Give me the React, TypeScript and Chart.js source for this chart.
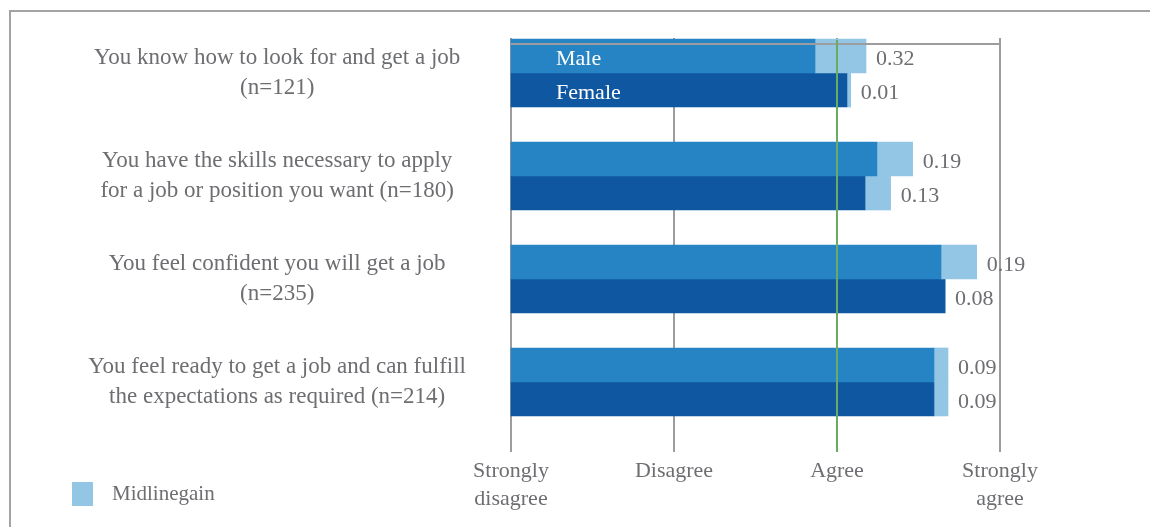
import React, { useEffect, useRef } from "react";
import { Chart, registerables } from "chart.js";

Chart.register(...registerables);

// ---------- data ----------
const CATEGORIES: string[][] = [
  ["You know how to look for and get a job", "(n=121)"],
  ["You have the skills necessary to apply", "for a job or position you want (n=180)"],
  ["You feel confident you will get a job", "(n=235)"],
  ["You feel ready to get a job and can fulfill", "the expectations as required (n=214)"],
];
const SCALE_LABELS: (string | string[])[] = [["Strongly", "disagree"], "Disagree", "Agree", ["Strongly", "agree"]];
const SCALE_MIN = 1;
const SCALE_MAX = 4;
const MIDLINE = 3;

const MALE_BASELINE = [2.865, 3.245, 3.638, 3.595];
const MALE_ENDLINE = [3.178, 3.464, 3.857, 3.681];
const FEMALE_BASELINE = [3.061, 3.172, 3.663, 3.595];
const FEMALE_ENDLINE = [3.084, 3.329, 3.663, 3.681];
const MALE_GAIN_LABELS = ["0.32", "0.19", "0.19", "0.09"];
const FEMALE_GAIN_LABELS = ["0.01", "0.13", "0.08", "0.09"];

// ---------- styles ----------
const FONT = "'Liberation Serif', 'DejaVu Serif', serif";
const TEXT = "#6d6e71";
const GRID = "#9d9d9f";
const GREEN = "#6aab62";
const MALE_COLOR = "#2784c4";
const FEMALE_COLOR = "#0f57a0";
const GAIN_COLOR = "#93c6e4";

const overlayPlugin = {
  id: "overlay",
  afterDatasetsDraw(chart: any) {
    const { ctx, chartArea, scales } = chart;
    ctx.save();
    // top rule
    ctx.strokeStyle = GRID;
    ctx.lineWidth = 2;
    ctx.beginPath();
    ctx.moveTo(chartArea.left, chartArea.top + 6);
    ctx.lineTo(chartArea.right, chartArea.top + 6);
    ctx.stroke();
    // midline
    const mx = scales.x.getPixelForValue(MIDLINE);
    ctx.strokeStyle = GREEN;
    ctx.beginPath();
    ctx.moveTo(mx, chartArea.top + 2);
    ctx.lineTo(mx, chartArea.bottom);
    ctx.stroke();

    // gain value labels
    ctx.font = `22px ${FONT}`;
    ctx.fillStyle = TEXT;
    ctx.textAlign = "left";
    ctx.textBaseline = "middle";
    const labelSets: [number, string[]][] = [
      [1, MALE_GAIN_LABELS],
      [3, FEMALE_GAIN_LABELS],
    ];
    for (const [dsIndex, labels] of labelSets) {
      const meta = chart.getDatasetMeta(dsIndex);
      meta.data.forEach((el: any, i: number) => {
        ctx.fillText(labels[i], el.x + 10, el.y + 3);
      });
    }

    // series names inside first bars
    ctx.fillStyle = "#ffffff";
    for (const dsIndex of [0, 2]) {
      const meta = chart.getDatasetMeta(dsIndex);
      const el: any = meta.data[0];
      ctx.fillText(chart.data.datasets[dsIndex].label, el.base + 45, el.y + 3);
    }
    ctx.restore();
  },
};

export default function App() {
  const canvasRef = useRef<HTMLCanvasElement | null>(null);

  useEffect(() => {
    if (!canvasRef.current) return;
    const chart = new Chart(canvasRef.current, {
      type: "bar",
      data: {
        datasets: [
          {
            label: "Male",
            stack: "male",
            data: CATEGORIES.map((_, i) => ({ y: i, x: [SCALE_MIN, MALE_BASELINE[i]] })) as any,
            backgroundColor: MALE_COLOR,
          },
          {
            label: "Midlinegain",
            stack: "male",
            data: CATEGORIES.map((_, i) => ({ y: i, x: [MALE_BASELINE[i], MALE_ENDLINE[i]] })) as any,
            backgroundColor: GAIN_COLOR,
          },
          {
            label: "Female",
            stack: "female",
            data: CATEGORIES.map((_, i) => ({ y: i, x: [SCALE_MIN, FEMALE_BASELINE[i]] })) as any,
            backgroundColor: FEMALE_COLOR,
          },
          {
            label: "Midlinegain",
            stack: "female",
            data: CATEGORIES.map((_, i) => ({ y: i, x: [FEMALE_BASELINE[i], FEMALE_ENDLINE[i]] })) as any,
            backgroundColor: GAIN_COLOR,
          },
        ],
      },
      options: {
        indexAxis: "y",
        animation: false,
        responsive: true,
        maintainAspectRatio: false,
        layout: { padding: { top: 38, right: 150, bottom: 0, left: 0 } },
        datasets: { bar: { barThickness: 34, borderWidth: 0, borderSkipped: false, clip: false as any } },
        plugins: { legend: { display: false }, tooltip: { enabled: false } },
        scales: {
          x: {
            type: "linear",
            min: SCALE_MIN,
            max: SCALE_MAX,
            stacked: false,
            offset: false,
            border: { display: false },
            grid: {
              color: (c: any) => (c.tick && c.tick.value === MIDLINE ? GREEN : GRID),
              lineWidth: 2,
              drawTicks: false,
              offset: false,
            },
            ticks: {
              stepSize: 1,
              padding: 5,
              color: TEXT,
              font: { family: FONT, size: 22, lineHeight: 1.27 },
              callback: (v: any) => SCALE_LABELS[Number(v) - SCALE_MIN] as any,
            },
            afterFit: (axis: any) => {
              axis.height = 75;
              axis.paddingLeft = 0;
              axis.paddingRight = 0;
            },
          },
          y: {
            type: "linear",
            min: -0.34,
            max: 3.68,
            reverse: true,
            offset: false,
            grace: 0,
            border: { display: false },
            grid: { display: false, drawTicks: false, offset: false },
            afterBuildTicks: (axis: any) => {
              axis.ticks = CATEGORIES.map((_, i) => ({ value: i }));
            },
            ticks: {
              crossAlign: "center",
              padding: 45,
              color: TEXT,
              font: { family: FONT, size: 23, lineHeight: 1.3 },
              callback: (v: any) => CATEGORIES[Number(v)] as any,
            },
            afterFit: (axis: any) => {
              axis.width = 511;
              axis.paddingTop = 0;
              axis.paddingBottom = 0;
            },
          },
        },
      },
      plugins: [overlayPlugin],
    } as any);
    return () => chart.destroy();
  }, []);

  return (
    <div style={{ position: "fixed", left: 0, top: 0, width: 1150, height: 527, background: "#fff", overflow: "hidden" }}>
      <div
        style={{
          position: "absolute",
          left: 9,
          top: 10,
          right: -10,
          bottom: -10,
          borderTop: "2px solid #a3a3a5",
          borderLeft: "2px solid #a3a3a5",
        }}
      />
      <div style={{ position: "absolute", left: 0, top: 0, width: 1150, height: 527 }}>
        <canvas ref={canvasRef} />
      </div>
      <div
        style={{
          position: "absolute",
          left: 72,
          top: 481,
          display: "flex",
          alignItems: "center",
          fontFamily: FONT,
          fontSize: 21,
          color: TEXT,
        }}
      >
        <span style={{ display: "inline-block", width: 21, height: 24, background: GAIN_COLOR, marginRight: 19 }} />
        <span>Midlinegain</span>
      </div>
    </div>
  );
}
